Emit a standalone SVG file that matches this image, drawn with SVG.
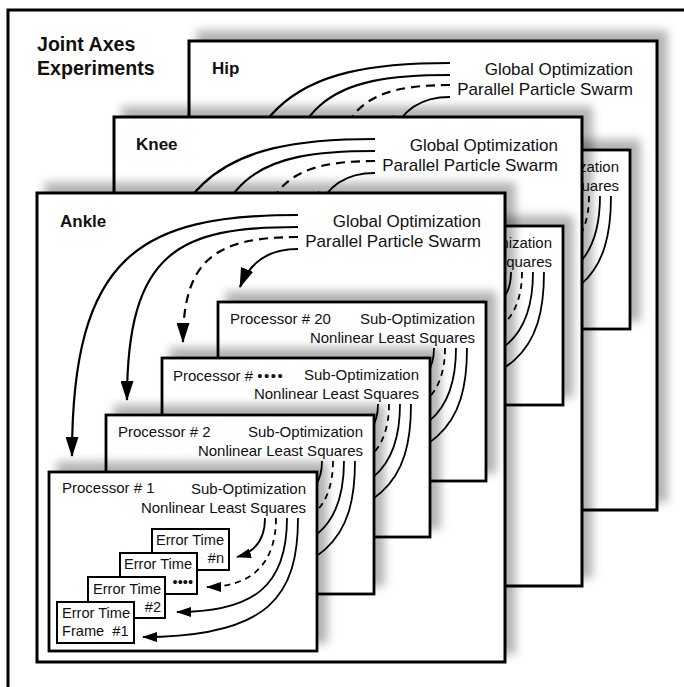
<svg xmlns="http://www.w3.org/2000/svg" xmlns:xlink="http://www.w3.org/1999/xlink" width="684" height="687" viewBox="0 0 684 687">
<style>
text{font-family:"Liberation Sans",Arial,sans-serif;fill:#111}
.ttl{font-size:19.6px;font-weight:bold}
.lbl{font-size:17px;font-weight:bold}
.g17{font-size:17px}
.t15{font-size:15px}
.t14{font-size:14.6px}
.end{text-anchor:end}
.jp{fill:#fff;stroke:#000;stroke-width:3}
.pp{fill:#fff;stroke:#000;stroke-width:2.8}
.eb{fill:#fff;stroke:#000;stroke-width:2}
.ga{fill:none;stroke:#000;stroke-width:2.2}
.gd{stroke-dasharray:9 6}
.pa{fill:none;stroke:#000;stroke-width:1.8}
.pd{stroke-dasharray:6 5}
</style>
<defs>
<filter id="sh" x="-10%" y="-15%" width="125%" height="125%">
<feGaussianBlur in="SourceAlpha" stdDeviation="5"/>
<feOffset dx="9" dy="-9" result="b"/>
<feFlood flood-color="#000" flood-opacity="0.3"/>
<feComposite in2="b" operator="in"/>
<feMerge><feMergeNode/><feMergeNode in="SourceGraphic"/></feMerge>
</filter>
<marker id="ah" markerUnits="userSpaceOnUse" markerWidth="20" markerHeight="13" refX="19" refY="6.5" orient="auto" viewBox="0 0 20 13"><path d="M0,0 L20,6.5 L0,13 z" fill="#000"/></marker>
<marker id="ahs" markerUnits="userSpaceOnUse" markerWidth="15" markerHeight="10" refX="14" refY="5" orient="auto" viewBox="0 0 15 10"><path d="M0,0 L15,5 L0,10 z" fill="#000"/></marker>
<g id="procBase">
<rect class="pp" filter="url(#sh)" x="0" y="0" width="268" height="179"/>
<text class="t15 end" x="257" y="22">Sub-Optimization</text>
<text class="t15 end" x="257" y="41">Nonlinear Least Squares</text>
<path class="pa" marker-end="url(#ahs)" d="M216,46 C216,68 206,80 188,85"/>
<path class="pa pd" marker-end="url(#ahs)" d="M227,46 C227,93 201,115 158,115"/>
<path class="pa" marker-end="url(#ahs)" d="M238,46 C238,113 206,140 128,140"/>
<path class="pa" marker-end="url(#ahs)" d="M249,46 C249,123 221,165 94,165"/>
</g>
<g id="jointBase">
<rect class="jp" filter="url(#sh)" x="37" y="193" width="468" height="469"/>
<text class="g17 end" x="481" y="227">Global Optimization</text>
<text class="g17 end" x="481" y="247">Parallel Particle Swarm</text>
<path class="ga" marker-end="url(#ah)" d="M298,215 C140,215 72,255 72,456"/>
<path class="ga" marker-end="url(#ah)" d="M298,227 C180,227 127,250 127,400"/>
<path class="ga gd" marker-end="url(#ah)" d="M298,237 C215,237 183,260 183,342"/>
<path class="ga" marker-end="url(#ah)" d="M298,249 C268,249 250,262 240,287"/>
</g>
</defs>
<rect id="frame" x="8" y="10" width="700" height="700" fill="#fff" stroke="#000" stroke-width="3"/>
<g id="title">
<text class="ttl" x="37" y="51">Joint Axes</text>
<text class="ttl" x="37" y="75">Experiments</text>
</g>
<g id="hip" transform="translate(152,-152)">
<use xlink:href="#jointBase"/>
<text class="lbl" x="60" y="226">Hip</text>
<use xlink:href="#procBase" x="210" y="302"/>
</g>
<g id="knee" transform="translate(77,-76)">
<use xlink:href="#jointBase"/>
<text class="lbl" x="59" y="226">Knee</text>
<use xlink:href="#procBase" x="218" y="302"/>
</g>
<g id="ankle">
<use xlink:href="#jointBase"/>
<text class="lbl" x="60" y="227">Ankle</text>
</g>
<g id="proc20" transform="translate(218,302)">
<use xlink:href="#procBase"/>
<text class="t15" x="12" y="22">Processor # 20</text>
</g>
<g id="procN" transform="translate(162,358)">
<use xlink:href="#procBase"/>
<text class="t15" x="11" y="23">Processor # <tspan letter-spacing="1.5">••••</tspan></text>
</g>
<g id="proc2" transform="translate(106,415)">
<use xlink:href="#procBase"/>
<text class="t15" x="12" y="22">Processor # 2</text>
</g>
<g id="proc1" transform="translate(49,472)">
<use xlink:href="#procBase"/>
<text class="t15" x="13" y="21">Processor # 1</text>
</g>
<g id="errN">
<rect class="eb" x="152" y="529" width="77" height="41"/>
<text class="t14" x="156" y="545">Error Time</text>
<text class="t14 end" x="224" y="563">#n</text>
</g>
<g id="errDots">
<rect class="eb" x="120" y="553" width="77" height="41"/>
<text class="t14" x="124" y="569">Error Time</text>
<text class="t14 end" x="193" y="587">••••</text>
</g>
<g id="err2">
<rect class="eb" x="88" y="577" width="77" height="41"/>
<text class="t14" x="93" y="594">Error Time</text>
<text class="t14 end" x="161" y="612">#2</text>
</g>
<g id="err1">
<rect class="eb" x="57" y="602" width="77" height="41"/>
<text class="t14" x="62" y="618">Error Time</text>
<text class="t14" x="62" y="636" xml:space="preserve">Frame  #1</text>
</g>
</svg>
